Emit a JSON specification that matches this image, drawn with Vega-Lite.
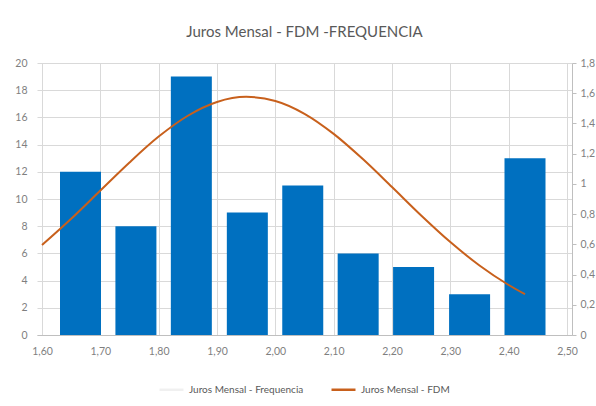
{
  "$schema": "https://vega.github.io/schema/vega-lite/v6.json",
  "width": 535,
  "height": 272,
  "autosize": {"type": "none"},
  "padding": {"left": 37, "top": 63, "right": 24, "bottom": 71},
  "background": "white",
  "config": {
    "locale": {"number": {"decimal": ",", "thousands": ".", "grouping": [3], "currency": ["", ""]}},
    "font": "Lato",
    "view": {"stroke": null},
    "axis": {"labelColor": "#7f7f7f", "labelFont": "Lato", "labelFontSize": 10.5, "gridColor": "#d9d9d9", "domainColor": "#bfbfbf", "tickColor": "#bfbfbf", "title": null}
  },
  "title": {"text": "Juros Mensal - FDM -FREQUENCIA", "font": "Lato", "fontSize": 15, "fontWeight": "normal", "color": "#595959", "anchor": "middle", "offset": 18},
  "datasets": {
    "freq": [
      {"x": 1.666, "freq": 12},
      {"x": 1.761, "freq": 8},
      {"x": 1.856, "freq": 19},
      {"x": 1.952, "freq": 9},
      {"x": 2.047, "freq": 11},
      {"x": 2.142, "freq": 6},
      {"x": 2.237, "freq": 5},
      {"x": 2.333, "freq": 3},
      {"x": 2.428, "freq": 13}
    ],
    "fdm": [
      {"x": 1.60, "fdm": 0.595, "serie": "Juros Mensal - FDM"},
      {"x": 1.65, "fdm": 0.769, "serie": "Juros Mensal - FDM"},
      {"x": 1.70, "fdm": 0.956, "serie": "Juros Mensal - FDM"},
      {"x": 1.75, "fdm": 1.142, "serie": "Juros Mensal - FDM"},
      {"x": 1.80, "fdm": 1.313, "serie": "Juros Mensal - FDM"},
      {"x": 1.85, "fdm": 1.451, "serie": "Juros Mensal - FDM"},
      {"x": 1.90, "fdm": 1.542, "serie": "Juros Mensal - FDM"},
      {"x": 1.95, "fdm": 1.576, "serie": "Juros Mensal - FDM"},
      {"x": 2.00, "fdm": 1.549, "serie": "Juros Mensal - FDM"},
      {"x": 2.05, "fdm": 1.464, "serie": "Juros Mensal - FDM"},
      {"x": 2.10, "fdm": 1.331, "serie": "Juros Mensal - FDM"},
      {"x": 2.15, "fdm": 1.164, "serie": "Juros Mensal - FDM"},
      {"x": 2.20, "fdm": 0.979, "serie": "Juros Mensal - FDM"},
      {"x": 2.25, "fdm": 0.791, "serie": "Juros Mensal - FDM"},
      {"x": 2.30, "fdm": 0.615, "serie": "Juros Mensal - FDM"},
      {"x": 2.35, "fdm": 0.460, "serie": "Juros Mensal - FDM"},
      {"x": 2.40, "fdm": 0.331, "serie": "Juros Mensal - FDM"},
      {"x": 2.428, "fdm": 0.270, "serie": "Juros Mensal - FDM"}
    ]
  },
  "layer": [
    {
      "data": {"name": "freq"},
      "mark": {"type": "bar", "size": 41, "color": "#0070c0"},
      "encoding": {
        "x": {"field": "x", "type": "quantitative", "scale": {"domain": [1.6, 2.5], "nice": false, "zero": false},
              "axis": {"values": [1.6, 1.7, 1.8, 1.9, 2.0, 2.1, 2.2, 2.3, 2.4, 2.5], "format": ".2f", "grid": true, "domain": true, "ticks": false, "labelPadding": 11, "labelFlush": false}},
        "y": {"field": "freq", "type": "quantitative", "scale": {"domain": [0, 20], "nice": false},
              "axis": {"values": [0, 2, 4, 6, 8, 10, 12, 14, 16, 18, 20], "grid": true, "domain": false, "ticks": false, "labelPadding": 10}}
      }
    },
    {
      "data": {"name": "fdm"},
      "mark": {"type": "line", "interpolate": "monotone", "strokeWidth": 2},
      "encoding": {
        "x": {"field": "x", "type": "quantitative"},
        "y": {"field": "fdm", "type": "quantitative", "scale": {"domain": [0, 1.8], "nice": false},
              "axis": {"orient": "right", "values": [0, 0.2, 0.4, 0.6, 0.8, 1, 1.2, 1.4, 1.6, 1.8], "format": ".1~f", "grid": false, "domain": true, "ticks": true, "tickSize": 4, "labelPadding": 4}},
        "color": {"field": "serie", "type": "nominal",
                  "scale": {"domain": ["Juros Mensal - Frequencia", "Juros Mensal - FDM"], "range": ["#f0f0f0", "#c8601c"]},
                  "legend": {"orient": "none", "legendX": 121, "legendY": 313, "direction": "horizontal", "title": null, "symbolType": "stroke", "symbolSize": 576, "symbolStrokeWidth": 2.5, "labelFontSize": 10, "labelColor": "#595959", "labelFont": "Lato", "columnPadding": 22}}
      }
    }
  ],
  "resolve": {"scale": {"y": "independent"}}
}
